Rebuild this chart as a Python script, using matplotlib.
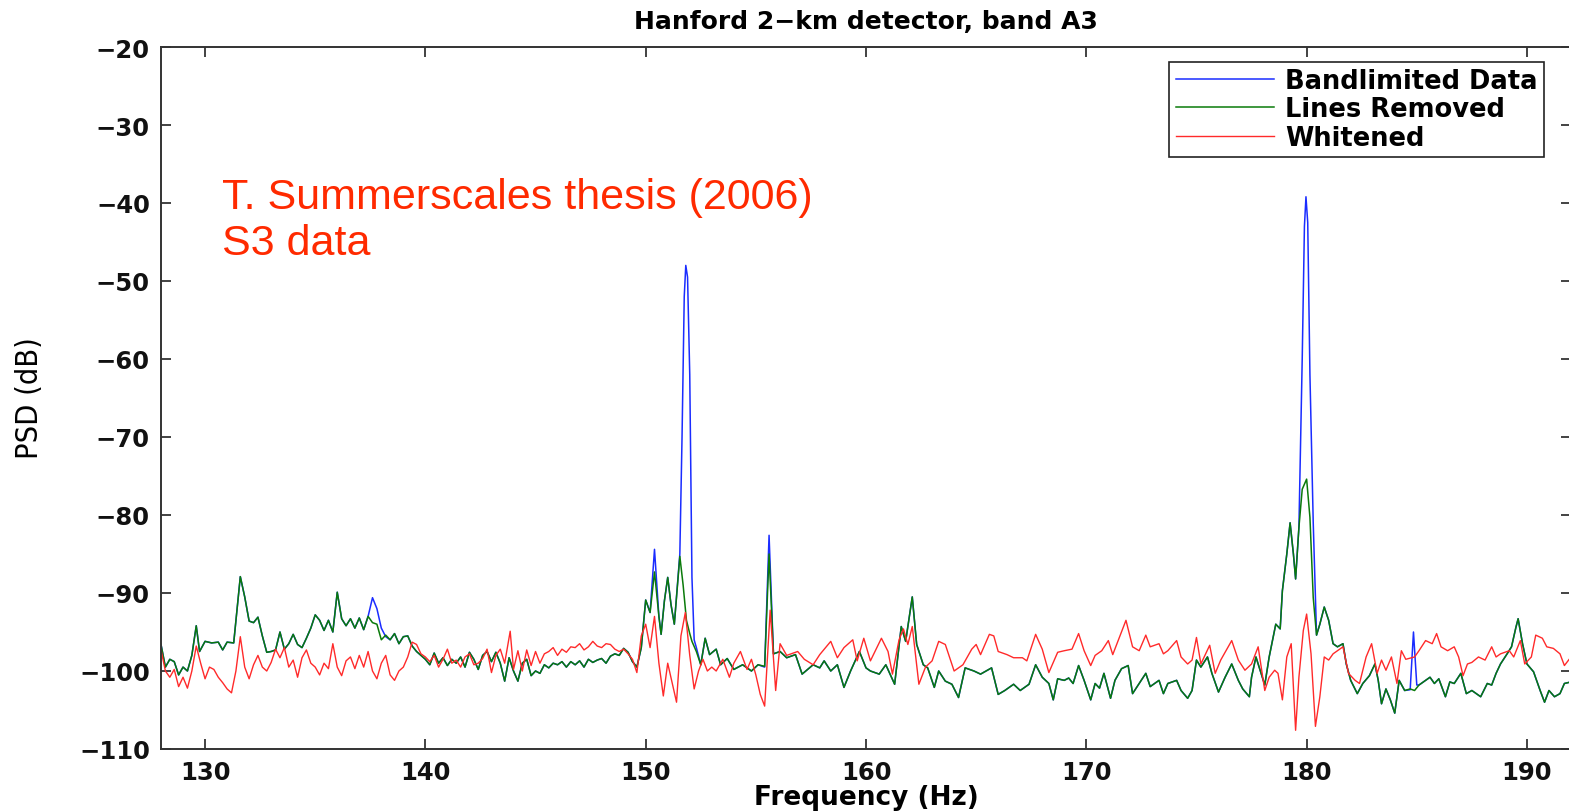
#!/usr/bin/env python3
"""
PSD of Hanford 2-km detector, band A3 (S3 data) - recreated chart
"""

import numpy as np
import matplotlib.pyplot as plt
from matplotlib import font_manager

# ---- data (Hz, dB) ----
lines_freq = [
    128.0, 128.2, 128.4, 128.6, 128.8, 129.0, 129.2, 129.4, 129.6, 129.75,
    130.0, 130.3, 130.6, 130.8, 131.0, 131.3, 131.6, 131.8, 132.0, 132.2,
    132.4, 132.6, 132.8, 133.0, 133.2, 133.4, 133.6, 133.8, 134.0, 134.2,
    134.4, 134.6, 134.8, 135.0, 135.2, 135.4, 135.6, 135.8, 136.0, 136.2,
    136.4, 136.6, 136.8, 137.0, 137.2, 137.4, 137.6, 137.8, 138.0, 138.2,
    138.4, 138.6, 138.8, 139.0, 139.2, 139.4, 139.6, 139.8, 140.0, 140.2,
    140.4, 140.6, 140.8, 141.0, 141.2, 141.4, 141.6, 141.8, 142.0, 142.2,
    142.4, 142.6, 142.8, 143.0, 143.2, 143.4, 143.6, 143.8, 144.0, 144.2,
    144.4, 144.6, 144.8, 145.0, 145.2, 145.4, 145.6, 145.8, 146.0, 146.2,
    146.4, 146.6, 146.8, 147.0, 147.2, 147.4, 147.6, 147.8, 148.0, 148.2,
    148.4, 148.6, 148.8, 149.0, 149.2, 149.4, 149.6, 149.8, 150.0, 150.2,
    150.4, 150.6, 150.7, 150.85, 151.0, 151.15, 151.3, 151.55, 151.7, 151.85,
    152.0, 152.1, 152.3, 152.5, 152.7, 152.9, 153.2, 153.4, 153.7, 154.0,
    154.4, 154.8, 155.1, 155.4, 155.6, 155.8, 156.1, 156.4, 156.8, 157.1,
    157.6, 157.9, 158.1, 158.4, 158.7, 159.0, 159.3, 159.7, 160.0, 160.2,
    160.6, 160.9, 161.3, 161.6, 161.8, 162.1, 162.3, 162.6, 162.8, 163.1,
    163.3, 163.6, 163.9, 164.2, 164.5, 164.9, 165.2, 165.7, 166.0, 166.3,
    166.7, 167.0, 167.4, 167.7, 168.0, 168.3, 168.5, 168.7, 169.0, 169.2,
    169.4, 169.65, 169.9, 170.2, 170.4, 170.6, 170.8, 171.1, 171.3, 171.6,
    171.9, 172.1, 172.4, 172.7, 172.9, 173.3, 173.5, 173.7, 174.1, 174.3,
    174.6, 174.8, 175.0, 175.2, 175.5, 175.7, 176.0, 176.3, 176.6, 176.9,
    177.1, 177.4, 177.5, 177.7, 177.9, 178.1, 178.3, 178.6, 178.8, 178.9,
    179.1, 179.25, 179.4, 179.5, 179.65, 179.8, 180.0, 180.15, 180.3, 180.45,
    180.6, 180.8, 181.0, 181.2, 181.4, 181.65, 181.8, 182.0, 182.3, 182.55,
    182.85, 183.1, 183.25, 183.4, 183.6, 183.8, 184.0, 184.2, 184.45, 184.7,
    184.9, 185.1, 185.4, 185.6, 185.8, 186.0, 186.3, 186.5, 186.7, 187.0,
    187.25, 187.5, 187.7, 187.9, 188.2, 188.4, 188.6, 188.8, 189.1, 189.3,
    189.5, 189.6, 189.8, 190.0, 190.3, 190.6, 190.8, 191.0, 191.25, 191.5,
    191.7, 192.0,
]
lines_psd = [
    -96.6, -99.5, -98.5, -98.8, -100.5, -99.5, -100.0, -98.0, -94.2, -97.5,
    -96.2, -96.4, -96.3, -97.3, -96.3, -96.4, -87.9, -90.5, -93.6, -93.8,
    -93.1, -95.5, -97.6, -97.5, -97.3, -95.0, -97.2, -96.5, -95.3, -96.6,
    -97.0, -95.8, -94.5, -92.8, -93.5, -94.8, -93.5, -95.0, -89.9, -93.3,
    -94.2, -93.3, -94.5, -93.2, -94.7, -93.0, -93.8, -94.0, -96.0, -95.4,
    -96.0, -95.2, -96.5, -95.6, -95.5, -96.8, -97.5, -98.0, -98.5, -99.2,
    -97.7, -99.0, -98.3, -99.3, -98.5, -99.0, -98.2, -99.5, -97.6, -98.5,
    -99.8, -98.0, -97.5, -98.8, -97.6, -99.0, -101.3, -98.3, -100.0, -101.3,
    -99.0, -98.5, -100.6, -100.0, -100.3, -99.2, -99.6, -99.0, -99.2, -98.8,
    -99.5, -98.8, -99.2, -98.7, -99.5, -98.5, -98.9, -98.6, -98.4, -99.0,
    -98.1, -97.8, -98.0, -97.1, -97.6, -98.8, -99.5, -97.0, -90.9, -92.5,
    -87.3, -93.0, -95.3, -91.0, -88.0, -91.5, -94.0, -85.3, -89.0, -93.5,
    -95.2, -96.2, -97.5, -99.2, -95.8, -97.9, -97.2, -99.2, -98.4, -99.8,
    -99.2, -100.0, -99.2, -99.4, -85.0, -97.8, -97.5, -98.3, -97.9, -100.4,
    -99.2, -99.6, -98.7, -100.0, -99.2, -102.1, -100.0, -97.5, -99.6, -100.0,
    -100.4, -99.2, -101.7, -94.3, -96.2, -90.5, -96.6, -99.2, -99.6, -102.1,
    -100.0, -101.3, -101.7, -103.4, -99.6, -100.0, -100.4, -99.6, -103.0, -102.5,
    -101.7, -102.5, -101.7, -99.2, -100.8, -101.6, -103.7, -101.0, -101.2, -100.9,
    -101.6, -99.3, -101.2, -103.7, -101.6, -102.2, -100.3, -103.5, -101.2, -99.7,
    -99.3, -102.9, -101.6, -100.3, -102.0, -101.2, -102.9, -101.6, -101.2, -102.5,
    -103.5, -102.5, -98.6, -99.5, -98.2, -100.3, -102.7, -100.8, -99.1, -101.2,
    -102.3, -103.3, -100.8, -98.2, -100.0, -101.8, -98.2, -94.0, -94.6, -89.7,
    -85.0, -81.0, -85.0, -88.2, -81.6, -76.7, -75.4, -80.3, -90.6, -95.4,
    -94.0, -91.8, -93.5, -96.5, -96.9, -96.5, -99.1, -101.2, -102.9, -101.6,
    -100.6, -99.1, -101.2, -104.2, -102.3, -103.7, -105.4, -101.2, -102.5, -102.3,
    -102.5, -101.8, -101.2, -100.8, -101.6, -101.0, -103.3, -101.4, -101.6, -100.3,
    -102.9, -102.5, -102.9, -103.3, -101.6, -101.8, -100.3, -99.1, -97.8, -96.9,
    -94.4, -93.3, -96.5, -99.1, -100.1, -102.5, -104.0, -102.5, -103.3, -102.9,
    -101.6, -101.4,
]

# bandlimited data follows the lines-removed curve except where the lines stand out
band_spike_freq = [
    [137.4, 137.6, 137.8, 138.0, 138.2],
    [150.2, 150.4, 150.6],
    [151.3, 151.55, 151.65, 151.75, 151.82, 151.9, 152.0, 152.1, 152.2, 152.3],
    [155.4, 155.6, 155.8],
    [179.65, 179.8, 179.9, 179.97, 180.05, 180.15, 180.3, 180.45],
    [184.7, 184.85, 185.0],
]
band_spike_psd = [
    [-93.0, -90.6, -92.0, -94.5, -95.6],
    [-92.5, -84.4, -93.0],
    [-94.0, -85.0, -70.0, -52.0, -48.0, -49.5, -62.0, -88.0, -96.0, -97.0],
    [-99.5, -82.6, -97.8],
    [-81.6, -60.0, -43.0, -39.2, -42.5, -62.0, -81.0, -95.4],
    [-102.4, -95.0, -101.8],
]

white_freq = [
    128.0, 128.2, 128.4, 128.6, 128.8, 129.0, 129.2, 129.4, 129.6, 129.8,
    130.0, 130.2, 130.4, 130.6, 130.8, 131.0, 131.2, 131.4, 131.6, 131.8,
    132.0, 132.2, 132.4, 132.6, 132.8, 133.0, 133.2, 133.4, 133.6, 133.8,
    134.0, 134.2, 134.4, 134.6, 134.8, 135.0, 135.2, 135.4, 135.6, 135.8,
    136.0, 136.2, 136.4, 136.6, 136.8, 137.0, 137.2, 137.4, 137.6, 137.8,
    138.0, 138.2, 138.4, 138.6, 138.8, 139.0, 139.2, 139.4, 139.6, 139.8,
    140.0, 140.2, 140.4, 140.6, 140.8, 141.0, 141.2, 141.4, 141.6, 141.8,
    142.0, 142.2, 142.4, 142.6, 142.8, 143.0, 143.2, 143.4, 143.6, 143.85,
    144.0, 144.2, 144.4, 144.6, 144.8, 145.0, 145.2, 145.4, 145.6, 145.8,
    146.0, 146.2, 146.4, 146.6, 146.8, 147.0, 147.2, 147.4, 147.6, 147.8,
    148.0, 148.2, 148.4, 148.6, 148.8, 149.0, 149.2, 149.4, 149.6, 149.8,
    150.0, 150.2, 150.4, 150.6, 150.8, 151.0, 151.2, 151.4, 151.6, 151.8,
    152.0, 152.2, 152.4, 152.6, 152.8, 153.0, 153.2, 153.5, 153.8, 154.0,
    154.3, 154.6, 154.8, 155.0, 155.2, 155.4, 155.65, 155.9, 156.1, 156.4,
    156.9, 157.2, 157.6, 157.9, 158.4, 158.7, 159.0, 159.4, 159.6, 159.9,
    160.2, 160.7, 161.0, 161.2, 161.5, 161.7, 161.9, 162.1, 162.4, 162.7,
    163.0, 163.3, 163.6, 164.0, 164.4, 164.8, 165.0, 165.2, 165.6, 165.8,
    166.0, 166.4, 166.7, 167.1, 167.3, 167.7, 168.0, 168.3, 168.5, 168.7,
    169.0, 169.35, 169.65, 169.9, 170.2, 170.4, 170.7, 171.0, 171.2, 171.5,
    171.8, 172.1, 172.4, 172.7, 172.9, 173.3, 173.5, 173.7, 174.1, 174.3,
    174.6, 174.8, 175.0, 175.2, 175.6, 175.85, 176.1, 176.6, 176.9, 177.2,
    177.5, 177.8, 178.1, 178.3, 178.55, 178.7, 178.9, 179.1, 179.3, 179.5,
    179.65, 179.85, 180.0, 180.2, 180.4, 180.6, 180.8, 181.0, 181.2, 181.4,
    181.65, 181.9, 182.2, 182.4, 182.7, 182.95, 183.2, 183.4, 183.6, 183.85,
    184.1, 184.3, 184.5, 184.9, 185.1, 185.4, 185.7, 185.9, 186.1, 186.4,
    186.7, 186.9, 187.1, 187.3, 187.5, 187.8, 188.1, 188.4, 188.6, 188.8,
    189.2, 189.4, 189.7, 189.9, 190.2, 190.4, 190.7, 190.9, 191.2, 191.5,
    191.7, 192.0,
]
white_psd = [
    -97.3, -100.0, -100.8, -99.8, -102.0, -100.8, -102.2, -100.0, -96.8, -99.0,
    -101.0, -99.5, -99.8, -100.8, -101.5, -102.3, -102.8, -100.0, -95.6, -99.5,
    -101.0, -99.2, -98.0, -99.5, -100.0, -98.9, -97.2, -98.3, -97.0, -99.5,
    -98.6, -100.8, -98.3, -97.3, -99.0, -99.5, -100.5, -99.0, -99.7, -96.5,
    -99.5, -100.6, -98.7, -98.2, -99.7, -98.0, -99.5, -97.5, -100.0, -101.0,
    -99.0, -98.0, -100.5, -101.2, -100.0, -99.5, -98.2, -96.3, -96.6, -97.8,
    -98.2, -98.8, -98.0, -99.5, -98.5, -97.2, -99.0, -98.6, -99.5, -98.2,
    -97.8, -99.2, -99.0, -98.4, -97.2, -100.2, -98.0, -97.2, -99.0, -94.9,
    -99.8, -97.4, -100.0, -97.3, -99.3, -97.5, -99.0, -97.8, -97.5, -97.0,
    -98.0, -97.2, -97.6, -96.9, -97.0, -96.5, -97.3, -96.9, -96.2, -96.8,
    -97.0, -96.5, -96.6, -97.2, -97.5, -97.2, -97.8, -98.5, -100.2, -95.5,
    -94.0, -97.0, -93.0, -99.0, -103.2, -99.0, -101.5, -104.0, -95.5, -92.5,
    -98.0, -102.3, -100.0, -98.5, -100.0, -99.5, -100.0, -98.5, -100.8, -99.0,
    -97.5, -99.8, -98.5, -100.5, -103.0, -104.5, -92.2, -102.5, -96.5, -98.0,
    -97.5, -98.5, -99.2, -97.9, -96.2, -98.3, -97.0, -96.0, -98.7, -95.8,
    -98.7, -95.8, -97.5, -100.4, -96.0, -94.6, -96.6, -94.3, -101.7, -99.5,
    -98.7, -96.2, -96.6, -100.0, -99.2, -97.2, -96.6, -97.9, -95.3, -95.5,
    -97.5, -97.9, -98.3, -98.3, -98.7, -95.3, -97.2, -100.2, -98.9, -97.6,
    -97.4, -97.2, -95.2, -97.4, -99.3, -98.0, -97.4, -96.1, -97.9, -95.7,
    -93.5, -96.9, -97.4, -95.4, -96.9, -96.5, -97.8, -97.4, -96.1, -98.2,
    -99.1, -98.6, -95.7, -99.1, -96.7, -100.3, -98.6, -96.1, -98.6, -99.9,
    -99.1, -96.9, -102.5, -100.8, -99.9, -100.3, -103.7, -98.2, -96.5, -107.6,
    -100.8, -94.8, -92.7, -97.8, -107.1, -103.3, -98.2, -98.6, -97.8, -97.4,
    -96.9, -100.3, -101.2, -101.6, -98.2, -96.5, -100.3, -98.6, -99.9, -98.2,
    -101.6, -97.4, -98.5, -98.2, -97.4, -96.1, -96.5, -95.2, -96.9, -97.4,
    -96.9, -98.2, -100.6, -99.1, -98.9, -98.2, -98.6, -96.9, -98.2, -97.8,
    -97.4, -98.2, -96.1, -99.1, -98.2, -95.4, -95.8, -96.9, -97.1, -97.8,
    -99.3, -98.2,
]

# ---- assemble the bandlimited curve ----
band_freq = []
band_psd = []
windows = [(min(f), max(f)) for f in band_spike_freq]
for f, v in zip(lines_freq, lines_psd):
    if not any(lo <= f <= hi for lo, hi in windows):
        band_freq.append(f)
        band_psd.append(v)
for fs, vs in zip(band_spike_freq, band_spike_psd):
    band_freq.extend(fs)
    band_psd.extend(vs)
order = np.argsort(band_freq)
band_freq = np.array(band_freq)[order]
band_psd = np.array(band_psd)[order]

# narrow font for the y label if one is installed
narrow_family = 'DejaVu Sans'
narrow_stretch = 'condensed'
names = {f.name for f in font_manager.fontManager.ttflist}
if 'Liberation Sans Narrow' in names:
    narrow_family = 'Liberation Sans Narrow'
    narrow_stretch = 'normal'

# ---- plot ----
fig = plt.figure(figsize=(15.69, 8.12), dpi=100)
fig.patch.set_facecolor('white')
ax = fig.add_axes([161 / 1569, 62 / 812, 1410 / 1569, 702 / 812])

ax.plot(band_freq, band_psd, color='#1a2cff', lw=1.1, label='Bandlimited Data')
ax.plot(lines_freq, lines_psd, color='#0a7a0a', lw=1.1, label='Lines Removed')
ax.plot(white_freq, white_psd, color='#ff2a2a', lw=1.0, label='Whitened')

ax.set_xlim(128, 192)
ax.set_ylim(-110, -20)
ax.set_xticks(range(130, 191, 10))
ax.set_yticks(range(-110, -19, 10))

tick_font = dict(family='DejaVu Sans', weight='bold', size=17.5)
ax.set_xticklabels([str(t) for t in range(130, 191, 10)], **tick_font)
ax.set_yticklabels([str(t).replace('-', '\u2212') for t in range(-110, -19, 10)], **tick_font)
ax.tick_params(direction='in', length=7, width=1.2, top=True, right=True,
               colors='#222222', labelcolor='#111111')
ax.tick_params(axis='x', pad=8)
ax.tick_params(axis='y', pad=8)
for sp in ax.spines.values():
    sp.set_color('#333333')
    sp.set_linewidth(1.4)

ax.set_title('Hanford 2\u2212km detector, band A3', fontsize=18, fontweight='bold',
             family='DejaVu Sans', pad=14)
ax.set_xlabel('Frequency (Hz)', fontsize=19, fontweight='bold', family='DejaVu Sans',
              labelpad=0)

fig.text(30 / 1569, 1 - 398 / 812, 'PSD (dB)', rotation=90, ha='center', va='center',
         fontsize=22, family=[narrow_family, 'DejaVu Sans'], fontstretch=narrow_stretch)

fig.text(222 / 1569, 1 - 178 / 812, 'T. Summerscales thesis (2006)\nS3 data',
         ha='left', va='top', fontsize=31, color='#ff2a00',
         family=['Liberation Sans', 'DejaVu Sans'], linespacing=1.2)

leg = ax.legend(loc='upper right', bbox_to_anchor=((1544 - 161) / 1410, 1 - 15 / 702),
                borderaxespad=0, fancybox=False, framealpha=1, edgecolor='#222222',
                prop=dict(family='DejaVu Sans', weight='bold', size=18.5),
                handlelength=3.8, labelspacing=0.08, borderpad=0.25, handletextpad=0.45)
leg.get_frame().set_linewidth(1.2)

fig.savefig('out.png', dpi=100)
